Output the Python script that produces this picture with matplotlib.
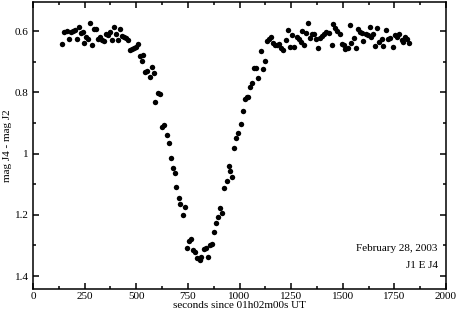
import matplotlib
matplotlib.use("Agg")
import matplotlib.pyplot as plt
from matplotlib.ticker import MultipleLocator, FuncFormatter

# seconds since 01h02m00s UT
t_sec = [142, 152, 164, 173, 183, 193, 202, 212, 222, 233, 241, 248, 257, 266, 277, 286,
         296, 306, 316, 325, 335, 345, 354, 364, 374, 383, 393, 403, 413, 422, 432, 442,
         451, 461, 471, 481, 490, 500, 510, 519, 529, 535, 544, 553, 565, 576, 584, 592,
         603, 613, 625, 636, 647, 657, 668, 677, 686, 694, 705, 714, 725, 738, 746, 754,
         765, 775, 786, 796, 807, 815, 827, 838, 848, 859, 869, 876, 887, 897, 905, 915,
         927, 937, 947, 956, 965, 972, 984, 995, 1005, 1016, 1026, 1034, 1042, 1053, 1062, 1069,
         1082, 1091, 1102, 1113, 1125, 1134, 1142, 1154, 1163, 1173, 1183, 1193, 1202, 1212, 1223, 1234,
         1244, 1256, 1263, 1277, 1288, 1296, 1304, 1312, 1320, 1333, 1341, 1349, 1361, 1369, 1380, 1390,
         1401, 1409, 1421, 1433, 1446, 1455, 1462, 1474, 1485, 1495, 1506, 1511, 1523, 1534, 1542, 1552,
         1563, 1574, 1584, 1592, 1600, 1612, 1620, 1630, 1639, 1647, 1657, 1668, 1676, 1688, 1697, 1707,
         1717, 1728, 1741, 1752, 1762, 1773, 1785, 1793, 1801, 1810, 1822]

# mag J4 - mag J2
dmag = [0.641, 0.603, 0.601, 0.627, 0.602, 0.599, 0.598, 0.626, 0.586, 0.608, 0.603, 0.638, 0.619, 0.626, 0.573, 0.645,
        0.592, 0.593, 0.627, 0.621, 0.629, 0.633, 0.610, 0.612, 0.603, 0.629, 0.586, 0.611, 0.629, 0.593, 0.615, 0.621,
        0.624, 0.629, 0.662, 0.659, 0.656, 0.651, 0.643, 0.682, 0.697, 0.678, 0.735, 0.731, 0.751, 0.716, 0.738, 0.831,
        0.803, 0.806, 0.912, 0.907, 0.939, 0.966, 1.015, 1.048, 1.063, 1.108, 1.146, 1.166, 1.200, 1.175, 1.308, 1.285,
        1.280, 1.316, 1.321, 1.342, 1.347, 1.336, 1.310, 1.308, 1.339, 1.298, 1.295, 1.257, 1.226, 1.207, 1.178, 1.195,
        1.111, 1.088, 1.041, 1.057, 1.075, 0.983, 0.949, 0.934, 0.904, 0.861, 0.822, 0.815, 0.814, 0.784, 0.771, 0.721,
        0.722, 0.752, 0.664, 0.725, 0.697, 0.633, 0.626, 0.621, 0.640, 0.645, 0.647, 0.642, 0.654, 0.662, 0.629, 0.597,
        0.651, 0.613, 0.651, 0.619, 0.626, 0.635, 0.600, 0.645, 0.606, 0.573, 0.624, 0.611, 0.610, 0.627, 0.654, 0.624,
        0.616, 0.611, 0.604, 0.608, 0.647, 0.578, 0.591, 0.600, 0.611, 0.643, 0.646, 0.660, 0.654, 0.580, 0.640, 0.624,
        0.656, 0.594, 0.602, 0.608, 0.633, 0.611, 0.613, 0.588, 0.621, 0.610, 0.648, 0.589, 0.635, 0.626, 0.649, 0.597,
        0.626, 0.624, 0.651, 0.613, 0.619, 0.610, 0.629, 0.637, 0.619, 0.626, 0.640]

plt.rcParams['font.family'] = ['Liberation Serif', 'DejaVu Serif']
plt.rcParams['font.size'] = 8.0

fig = plt.figure(figsize=(4.57, 3.15), dpi=100)
ax = fig.add_axes([0.0722, 0.0825, 0.9038, 0.9115])

ax.plot(t_sec, dmag, 'o', color='black', markersize=3.9, markeredgewidth=0)

ax.set_xlim(0, 2000)
ax.set_ylim(1.442, 0.505)
ax.xaxis.set_major_locator(MultipleLocator(250))
ax.xaxis.set_minor_locator(MultipleLocator(125))
ax.yaxis.set_major_locator(MultipleLocator(0.2))
ax.yaxis.set_minor_locator(MultipleLocator(0.1))
ax.yaxis.set_major_formatter(FuncFormatter(lambda v, p: f"{v:g}"))
ax.tick_params(which='both', direction='in', top=True, right=True, width=1.1)
ax.tick_params(axis='x', pad=2)
ax.tick_params(axis='y', pad=3)
ax.tick_params(which='major', length=4.5)
ax.tick_params(which='minor', length=2.3)
for s in ax.spines.values():
    s.set_linewidth(1.1)

ax.set_xlabel("seconds since 01h02m00s UT", labelpad=0)
ax.set_ylabel("mag J4 - mag J2", labelpad=2)

ax.text(1960, 1.311, "February 28, 2003", ha='right', va='center')
ax.text(1960, 1.364, "J1 E J4", ha='right', va='center')

fig.savefig("out.png", dpi=100)
